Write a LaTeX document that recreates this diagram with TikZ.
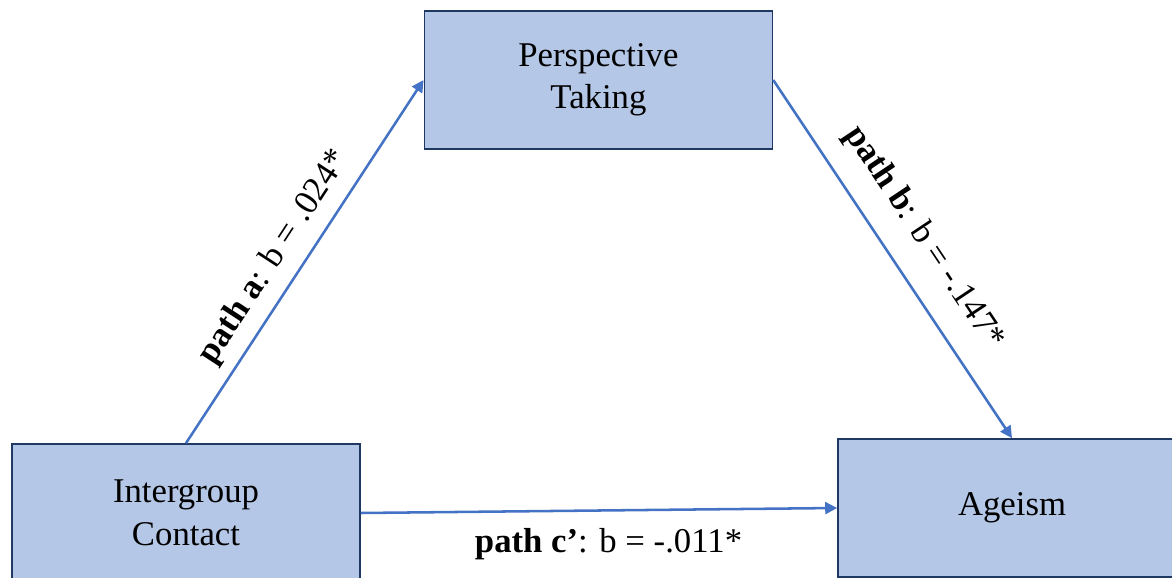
\documentclass[tikz,border=0pt]{standalone}
\usepackage{fontspec}
\setmainfont{Liberation Serif}
\usetikzlibrary{arrows.meta}
\definecolor{boxfill}{HTML}{B4C7E7}
\definecolor{boxline}{HTML}{203864}
\definecolor{arrowblue}{HTML}{4472C4}
\begin{document}
\begin{tikzpicture}[
	every node/.style={font=\fontsize{24.7}{30.2}\selectfont},
	var/.style={draw=boxline,line width=1.2pt,fill=boxfill,minimum width=8.7cm,minimum height=3.45cm,align=center,inner sep=0pt},
	effect/.style={draw=arrowblue,line width=1.8pt,-{Triangle[length=8.5pt,width=8.5pt]}}
	]
	\useasboundingbox (0,0) rectangle (29.3,14.425);
	\clip (0,0) rectangle (29.3,14.425);
	\node[var] (PT) at (14.96,12.425) {Perspective\\Taking}; %媒介
	\node[var] (IC) at (4.65,1.6) {Intergroup\\Contact}; %独立
	\node[var] (AG) at (25.3,1.725) {Ageism}; %従属
	\draw[effect] (IC.north) -- (PT.west) node[pos=0.47,sloped,above=0.15cm]{\textbf{path a}: b = .024*};
	\draw[effect] (PT.east) -- (AG.north) node[pos=0.5,sloped,above=0.4cm]{\textbf{path b}: b = -.147*};
	\draw[effect] (IC.east) -- (AG.west) node[pos=0.52,below=0.3cm]{\textbf{path c’}: b = -.011*};
\end{tikzpicture}
\end{document}
